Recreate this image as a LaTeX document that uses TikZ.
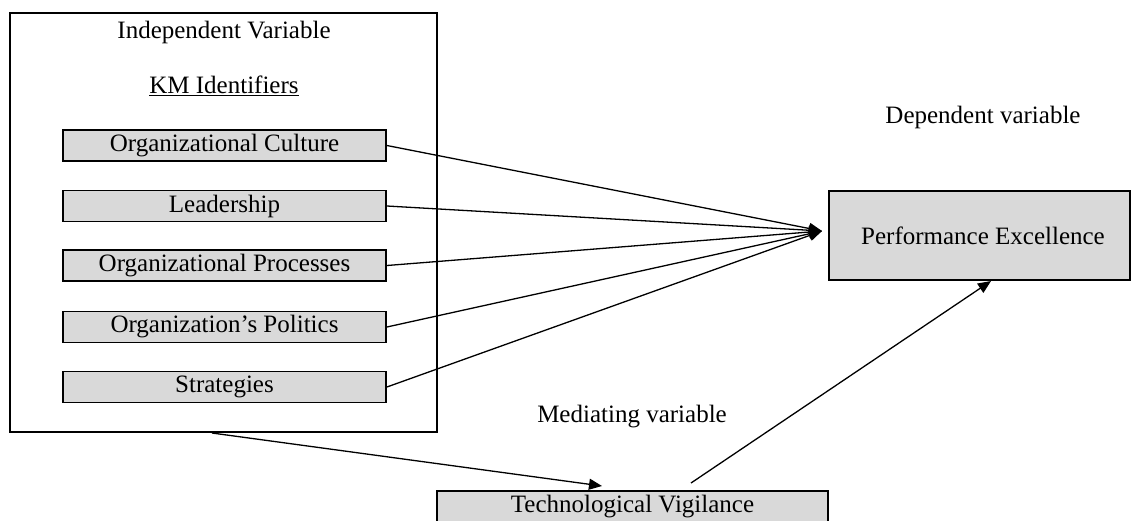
\documentclass[tikz,border=0pt]{standalone}
\usepackage{fontspec}
\setmainfont{Liberation Serif}
\usetikzlibrary{arrows.meta}
\definecolor{boxgray}{RGB}{217,217,217}
\tikzset{
  every node/.style={font=\fontsize{25}{30}\selectfont},
  kmbox/.style={draw, line width=1.8pt, fill=boxgray, minimum width=323pt, minimum height=31pt, inner sep=0pt},
  bigbox/.style={draw, line width=2pt, fill=boxgray, inner sep=0pt},
  frame/.style={draw, line width=2pt, inner sep=0pt, minimum width=427pt, minimum height=419pt},
  conn/.style={line width=1.3pt, -{Triangle[length=13pt,width=11pt]}},
  plain/.style={inner sep=0pt}
}
\begin{document}
\begin{tikzpicture}[x=1pt,y=-1pt]
\useasboundingbox (0,0) rectangle (1131,520);
\node[frame] (outer) at (223.5,222.5) {};
\node[plain] (iv) at (224,32) {Independent Variable};
\node[plain] (km) at (224,86) {\underline{KM Identifiers}};
\node[kmbox] (c1) at (224.5,145.5) {Organizational Culture};
\node[kmbox] (c2) at (224.5,206) {Leadership};
\node[kmbox] (c3) at (224.5,265.5) {Organizational Processes};
\node[kmbox] (c4) at (224.5,327) {Organization’s Politics};
\node[kmbox] (c5) at (224.5,387) {Strategies};
\node[plain] (dv) at (983,117) {Dependent variable};
\node[bigbox, minimum width=301pt, minimum height=89pt] (pe) at (979.5,235.5) {\hspace*{7pt}Performance Excellence};
\node[plain] (mv) at (632,417) {Mediating variable};
\node[bigbox, minimum width=391pt, minimum height=31pt] (tv) at (632.5,506.5) {Technological Vigilance};
\coordinate (fan) at (822,231);
\foreach \n in {c1,c2,c3,c4,c5} \draw[conn] (\n.east) -- (fan);
\draw[conn] ([xshift=203pt]outer.south west) -- ([xshift=166pt,yshift=4pt]tv.north west);
\draw[conn] ([xshift=255pt,yshift=7pt]tv.north west) -- ([xshift=163pt]pe.south west);
\end{tikzpicture}
\end{document}
